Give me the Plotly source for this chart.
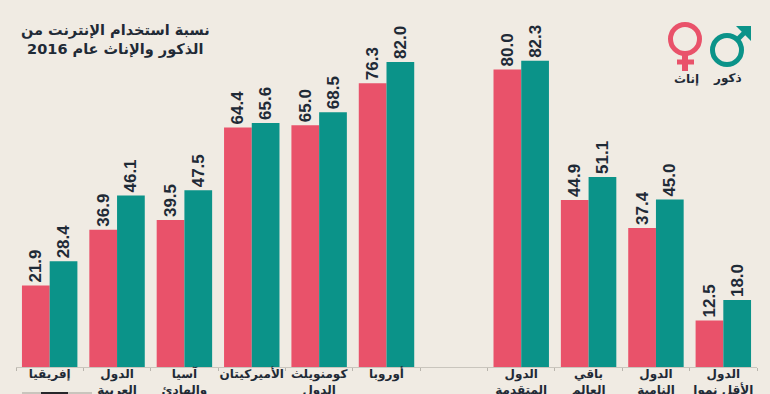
import plotly.graph_objects as go

categories = ["إفريقيا", "الدول<br>العربية", "آسيا<br>والهادئ", "الأميركيتان", "كومنويلث<br>الدول", "أوروبا", " ",
              "الدول<br>المتقدمة", "باقي<br>العالم", "الدول<br>النامية", "الدول<br>الأقل نموا"]
female = [21.9, 36.9, 39.5, 64.4, 65.0, 76.3, None, 80.0, 44.9, 37.4, 12.5]
male = [28.4, 46.1, 47.5, 65.6, 68.5, 82.0, None, 82.3, 51.1, 45.0, 18.0]
title_lines = "نسبة استخدام الإنترنت من<br>الذكور والإناث عام 2016"
female_label = "إناث"
male_label = "ذكور"

BG = "#f0ebe3"
PINK = "#e9526a"
TEAL = "#0b9389"
INK = "#1f2a36"
W, H = 770, 394
L, R, B = 16, 13, 27


def px(x):
    return (x - L) / (W - L - R)


def py(y):
    return (H - B - y) / (H - B)


def fmt(v):
    return ["" if a is None else f"{a:.1f}" for a in v]


fig = go.Figure()
for name, vals, col in [("إناث", female, PINK), ("ذكور", male, TEAL)]:
    fig.add_bar(x=categories, y=vals, name=name, marker=dict(color=col, line_width=0),
                text=fmt(vals), textposition="outside", textangle=-90, cliponaxis=False,
                constraintext="none",
                textfont=dict(family="Liberation Sans", size=17, color=INK, weight="bold"))

paper = dict(xref="paper", yref="paper")
shapes = [
    # female symbol
    dict(type="circle", x0=px(670.5), x1=px(699.5), y0=py(53.5), y1=py(24.5),
         line=dict(color=PINK, width=5), **paper),
    dict(type="line", x0=px(685), x1=px(685), y0=py(55), y1=py(71), line=dict(color=PINK, width=6), **paper),
    dict(type="line", x0=px(677), x1=px(694), y0=py(62), y1=py(62), line=dict(color=PINK, width=5), **paper),
    # male symbol
    dict(type="circle", x0=px(712.5), x1=px(741.5), y0=py(64.5), y1=py(35.5),
         line=dict(color=TEAL, width=5), **paper),
    dict(type="line", x0=px(737), x1=px(747), y0=py(40), y1=py(30), line=dict(color=TEAL, width=5), **paper),
    dict(type="path", path=f"M {px(736)} {py(26)} L {px(751)} {py(26)} L {px(751)} {py(41)} Z",
         fillcolor=TEAL, line=dict(width=0), **paper),
    # fragment of the logo cut by the bottom edge
    dict(type="rect", x0=px(22), x1=px(92), y0=py(392), y1=py(394), fillcolor="#c9c5bd",
         line=dict(width=0), **paper),
    dict(type="rect", x0=px(41), x1=px(68), y0=py(392), y1=py(394), fillcolor="#26262a",
         line=dict(width=0), **paper),
]

annotations = [
    dict(text=title_lines, x=px(115), y=py(40), xanchor="center", yanchor="middle", showarrow=False,
         align="center", font=dict(family="DejaVu Sans", size=14.5, color=INK, weight="bold"), **paper),
    dict(text=female_label, x=px(686), y=py(79), xanchor="center", yanchor="middle", showarrow=False,
         font=dict(family="DejaVu Sans", size=12, color=INK, weight="bold"), **paper),
    dict(text=male_label, x=px(727), y=py(79), xanchor="center", yanchor="middle", showarrow=False,
         font=dict(family="DejaVu Sans", size=12, color=INK, weight="bold"), **paper),
]

fig.update_layout(
    width=W, height=H, margin=dict(l=L, r=R, t=0, b=B, autoexpand=False),
    paper_bgcolor=BG, plot_bgcolor=BG, barmode="group", bargap=0.177, bargroupgap=0,
    showlegend=False, shapes=shapes, annotations=annotations,
    xaxis=dict(type="category", tickson="boundaries", ticks="outside", ticklen=3, tickcolor="#b9b5ad",
               showline=True, linecolor="#c9c5bd", linewidth=1, tickangle=0, showgrid=False,
               ticklabelstandoff=-4,
               tickfont=dict(family="DejaVu Sans", size=12, color=INK, weight="bold")),
    yaxis=dict(range=[0, 98.66], visible=False, showgrid=False, zeroline=False),
)
fig.write_html("out.html", post_script="document.body.style.margin='0';",
               config=dict(displayModeBar=False))
